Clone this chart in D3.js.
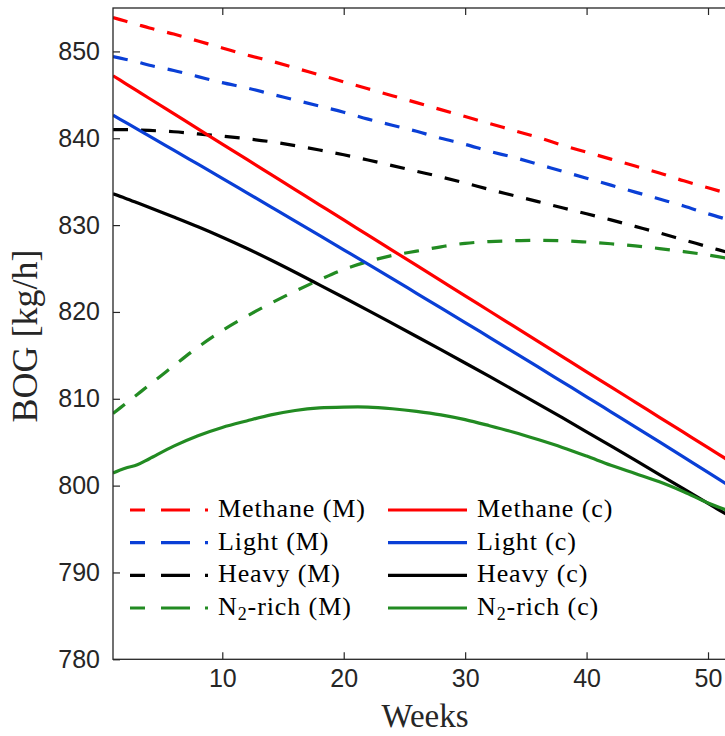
<!DOCTYPE html>
<html>
<head>
<meta charset="utf-8">
<script src="https://cdn.jsdelivr.net/npm/d3@7"></script>
<style>
  body { margin: 0; background: #fff; }
  svg { display: block; }
</style>
</head>
<body>
<script>
// Boil-off gas rate over the voyage, model (M) vs. correlation (c)
const weeks = [1, 2, 3, 4, 6, 8, 10, 12, 14, 16, 18, 20, 22, 24, 26, 28, 30, 32, 34, 36, 38, 40, 42, 44, 46, 48, 50, 52];

const methaneM = [853.9, 853.5, 853.1, 852.7, 852.0, 851.2, 850.4, 849.6, 848.9, 848.1, 847.3, 846.5, 845.7, 844.9, 844.1, 843.3, 842.5, 841.7, 840.9, 840.1, 839.2, 838.4, 837.6, 836.8, 836.0, 835.1, 834.3, 833.5];
const lightM   = [849.4, 849.1, 848.8, 848.4, 847.8, 847.1, 846.4, 845.8, 845.1, 844.4, 843.7, 843.0, 842.2, 841.5, 840.8, 840.0, 839.3, 838.5, 837.8, 837.0, 836.2, 835.4, 834.6, 833.8, 833.0, 832.2, 831.3, 830.5];
const heavyM   = [841.0, 841.0, 840.95, 840.9, 840.75, 840.5, 840.25, 839.95, 839.6, 839.15, 838.65, 838.1, 837.5, 836.85, 836.2, 835.55, 834.85, 834.1, 833.4, 832.7, 832.0, 831.3, 830.6, 829.85, 829.1, 828.3, 827.5, 826.7];
const n2RichM  = [808.3, 809.4, 810.5, 811.6, 813.8, 815.95, 817.85, 819.5, 821.0, 822.4, 823.7, 824.9, 825.8, 826.5, 827.0, 827.5, 827.9, 828.1, 828.2, 828.25, 828.2, 828.05, 827.85, 827.6, 827.3, 826.95, 826.55, 826.1];

const methaneC = [847.2, 846.33, 845.45, 844.58, 842.83, 841.08, 839.33, 837.59, 835.84, 834.09, 832.34, 830.59, 828.85, 827.1, 825.35, 823.6, 821.85, 820.11, 818.36, 816.61, 814.86, 813.11, 811.37, 809.62, 807.87, 806.12, 804.37, 802.63];
const lightC   = [842.65, 841.85, 841.05, 840.24, 838.63, 837.01, 835.39, 833.75, 832.11, 830.47, 828.82, 827.16, 825.5, 823.83, 822.15, 820.47, 818.78, 817.08, 815.38, 813.67, 811.95, 810.23, 808.5, 806.77, 805.03, 803.28, 801.53, 799.77];
const heavyC   = [833.6, 833.1, 832.57, 832.03, 830.93, 829.8, 828.6, 827.33, 825.98, 824.57, 823.12, 821.66, 820.18, 818.68, 817.17, 815.65, 814.12, 812.57, 811.0, 809.42, 807.82, 806.2, 804.57, 802.93, 801.28, 799.62, 797.95, 796.3];
const n2RichC  = [801.45, 802.0, 802.4, 803.1, 804.55, 805.75, 806.7, 807.45, 808.15, 808.65, 808.95, 809.05, 809.05, 808.85, 808.55, 808.15, 807.6, 806.9, 806.15, 805.3, 804.4, 803.4, 802.35, 801.4, 800.45, 799.3, 798.0, 796.95];

const xTicks = [10, 20, 30, 40, 50];
const yTicks = [780, 790, 800, 810, 820, 830, 840, 850];

const seriesNames = ["Methane", "Light", "Heavy", "N2-rich"];
const seriesColors = ["#ff0000", "#0a3fd6", "#000000", "#228b22"];

const modelSeries = [methaneM, lightM, heavyM, n2RichM];
const corrSeries = [methaneC, lightC, heavyC, n2RichC];

const W = 725, H = 736;
const plotLeft = 113, plotRight = 732.3, plotTop = 8, plotBottom = 659.3;

const x = d3.scaleLinear().domain([1, 52]).range([plotLeft, plotRight]);
const y = d3.scaleLinear().domain([780, 855]).range([plotBottom, plotTop]);

const svg = d3.select("body").append("svg")
  .attr("width", W).attr("height", H);

const axisColor = "#262626";
const tickFont = "'Liberation Sans', Arial, Helvetica, sans-serif";
const serif = "'Liberation Serif', 'Times New Roman', serif";

svg.append("defs").append("clipPath").attr("id", "plot-clip")
  .append("rect")
  .attr("x", plotLeft).attr("y", plotTop)
  .attr("width", plotRight - plotLeft).attr("height", plotBottom - plotTop);

// data lines
const line = d3.line()
  .x((d, i) => x(weeks[i]))
  .y(d => y(d))
  .curve(d3.curveCatmullRom.alpha(0.5));

const plot = svg.append("g").attr("clip-path", "url(#plot-clip)");

modelSeries.forEach((vals, i) => {
  plot.append("path")
    .attr("d", line(vals))
    .attr("fill", "none")
    .attr("stroke", seriesColors[i])
    .attr("stroke-width", 3.2)
    .attr("stroke-dasharray", "15,13");
});
corrSeries.forEach((vals, i) => {
  plot.append("path")
    .attr("d", line(vals))
    .attr("fill", "none")
    .attr("stroke", seriesColors[i])
    .attr("stroke-width", 3.2);
});

// axes (ticks point inward, box on all four sides)
function styleAxis(g) {
  g.select(".domain").remove();
  g.selectAll(".tick line").attr("stroke", axisColor).attr("stroke-width", 1.2);
  g.selectAll(".tick text")
    .attr("fill", axisColor)
    .style("font-family", tickFont)
    .style("font-size", "25px");
}

svg.append("g").attr("transform", `translate(${plotLeft},0)`)
  .call(d3.axisLeft(y).tickValues(yTicks).tickSize(-7).tickPadding(13))
  .call(styleAxis);

svg.append("g").attr("transform", `translate(${plotRight},0)`)
  .call(d3.axisRight(y).tickValues(yTicks).tickSize(-7).tickFormat(""))
  .call(styleAxis);

svg.append("g").attr("transform", `translate(0,${plotBottom})`)
  .call(d3.axisBottom(x).tickValues(xTicks).tickSize(-7).tickPadding(10))
  .call(styleAxis);

svg.append("g").attr("transform", `translate(0,${plotTop})`)
  .call(d3.axisTop(x).tickValues(xTicks).tickSize(-7).tickFormat(""))
  .call(styleAxis);

svg.append("rect")
  .attr("x", plotLeft).attr("y", plotTop)
  .attr("width", plotRight - plotLeft).attr("height", plotBottom - plotTop)
  .attr("fill", "none")
  .attr("stroke", axisColor)
  .attr("stroke-width", 1.3);

// axis titles
svg.append("text")
  .attr("x", 425).attr("y", 727)
  .attr("text-anchor", "middle")
  .attr("fill", axisColor)
  .style("font-family", serif)
  .style("font-size", "33px")
  .text("Weeks");

svg.append("text")
  .attr("transform", "translate(37,336) rotate(-90)")
  .attr("text-anchor", "middle")
  .attr("fill", axisColor)
  .style("font-family", serif)
  .style("font-size", "36px")
  .text("BOG [kg/h]");

// legend: two columns, model (M) dashed on the left, correlation (c) solid on the right
const legendRows = [510, 542.7, 575.4, 608];
const legend = svg.append("g");

function legendLabel(g, xPos, yPos, name, tag) {
  const t = g.append("text")
    .attr("x", xPos).attr("y", yPos + 7)
    .attr("fill", "#000")
    .style("font-family", serif)
    .style("font-size", "26px")
    .style("letter-spacing", "0.9px");
  if (name === "N2-rich") {
    t.append("tspan").text("N");
    t.append("tspan").attr("dy", 5).style("font-size", "18px").text("2");
    t.append("tspan").attr("dy", -5).text("-rich " + tag);
  } else {
    t.text(name + " " + tag);
  }
}

seriesNames.forEach((name, i) => {
  const ry = legendRows[i];
  legend.append("line")
    .attr("x1", 130).attr("x2", 208)
    .attr("y1", ry).attr("y2", ry)
    .attr("stroke", seriesColors[i])
    .attr("stroke-width", 3.2)
    .attr("stroke-dasharray", "15,16,29,15,3,30");
  legendLabel(legend, 218, ry, name, "(M)");

  legend.append("line")
    .attr("x1", 388).attr("x2", 467)
    .attr("y1", ry).attr("y2", ry)
    .attr("stroke", seriesColors[i])
    .attr("stroke-width", 3.2);
  legendLabel(legend, 477, ry, name, "(c)");
});
</script>
</body>
</html>
